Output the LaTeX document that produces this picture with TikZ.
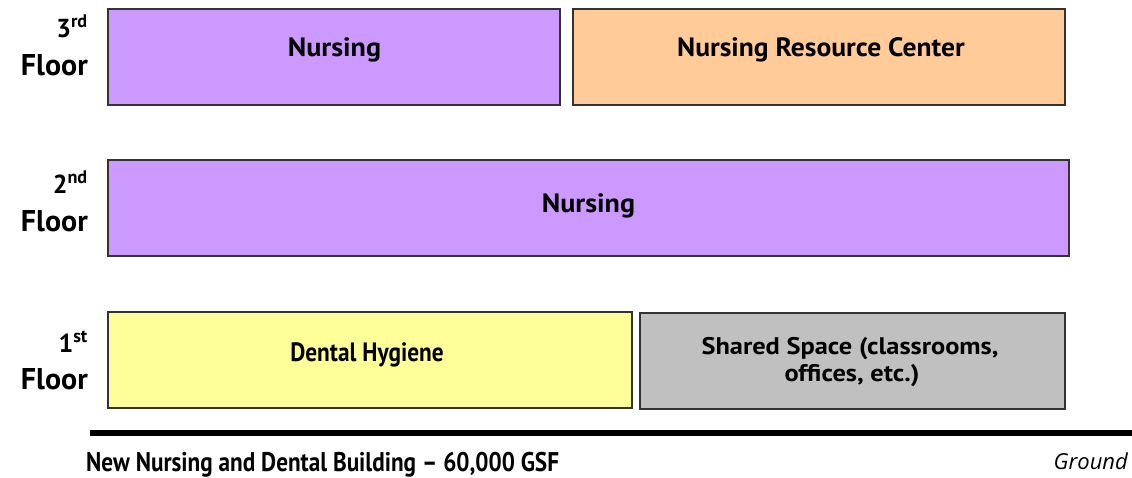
\documentclass[tikz,border=0pt]{standalone}
\usepackage{fontspec}
\setmainfont{PT Sans}
\newfontfamily\groundfont{Open Sans}
\begin{document}
\begin{tikzpicture}[x=1pt,y=-1pt,
  room/.style={draw=black!80,line width=1.5pt,inner sep=0pt,minimum height=96pt},
  roomtext/.style={font=\bfseries\fontsize{26.5}{35}\selectfont,align=center,inner sep=0pt,anchor=base},
  numlab/.style={font=\bfseries\fontsize{26}{30}\selectfont,anchor=base east,inner sep=0pt},
  floorlab/.style={font=\bfseries\fontsize{30}{36}\selectfont,anchor=base east,inner sep=0pt}]
\useasboundingbox (0,0) rectangle (1132,477);
\fill[white] (0,0) rectangle (1132,477);
% 3rd floor
\node[room,fill={rgb,255:red,204;green,153;blue,255},minimum width=452pt] (n3) at (334,57) {};
\node[room,fill={rgb,255:red,255;green,204;blue,153},minimum width=492pt] (nrc) at (819,57) {};
% 2nd floor
\node[room,fill={rgb,255:red,204;green,153;blue,255},minimum width=961pt] (n2) at (588.5,208) {};
% 1st floor
\node[room,fill={rgb,255:red,255;green,255;blue,153},minimum width=524pt] (dh) at (370,360) {};
\node[room,fill={rgb,255:red,192;green,192;blue,192},minimum width=425pt] (ss) at (852.5,361) {};
% room texts
\node[roomtext] (t3) at (334.5,56.5) {\scalebox{1.06}[1]{Nursing}};
\node[roomtext] (tnrc) at (821,56.5) {\scalebox{1.04}[1]{Nursing Resource Center}};
\node[roomtext] (t2) at (588.5,212) {\scalebox{1.06}[1]{Nursing}};
\node[roomtext] (tdh) at (367,361) {\scalebox{0.88}[1]{Dental Hygiene}};
\node[font=\bfseries\fontsize{24}{27}\selectfont,inner sep=0pt,anchor=base] (tss1) at (850,354) {\scalebox{1.1}[1]{Shared Space (classrooms,}};
\node[font=\bfseries\fontsize{24}{27}\selectfont,inner sep=0pt,anchor=base] (tss2) at (852,381) {\scalebox{1.1}[1]{offices, etc.)}};
% floor labels
\node[numlab] (d3) at (88,37) {3\textsuperscript{rd}};
\node[floorlab] (f3) at (88,75) {Floor};
\node[numlab] (d2) at (88,193) {2\textsuperscript{nd}};
\node[floorlab] (f2) at (88,231) {Floor};
\node[numlab] (d1) at (88,352) {1\textsuperscript{st}};
\node[floorlab] (f1) at (88,389) {Floor};
% ground
\coordinate (g1) at (90,433);
\coordinate (g2) at (1132,433);
\draw[line width=6pt] (g1) -- (g2);
\node[font=\bfseries\fontsize{27}{30}\selectfont,anchor=base west,inner sep=0pt] (title) at (86,471) {\scalebox{0.86}[1]{New Nursing and Dental Building -- 60,000 GSF}};
\node[font=\groundfont\itshape\fontsize{22}{26}\selectfont,anchor=base east,inner sep=0pt] (ground) at (1128,469) {Ground};
\end{tikzpicture}
\end{document}
